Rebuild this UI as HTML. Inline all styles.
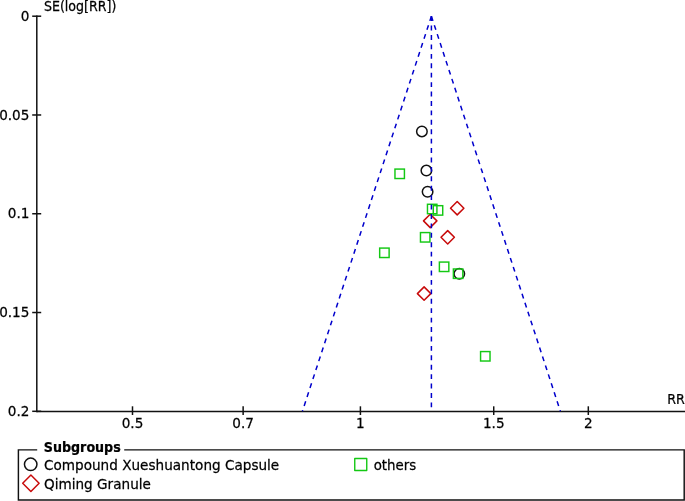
<!DOCTYPE html>
<html><head><meta charset="utf-8"><title>Funnel plot</title>
<style>
html,body{margin:0;padding:0;background:#fff;}
body{width:685px;height:501px;overflow:hidden;position:relative;}
svg{position:absolute;left:0;top:0;display:block;}
text{font-family:"DejaVu Sans","Liberation Sans",sans-serif;font-size:14.4px;fill:#000;stroke:#000;stroke-width:0.25px;}
.b{font-weight:bold;}
</style></head><body>
<svg width="685" height="501" viewBox="0 0 685 501">
<rect x="0" y="0" width="685" height="501" fill="#fff"/>
<g stroke="#111" stroke-width="1.5" fill="none">
<line x1="36.8" y1="15.5" x2="36.8" y2="412.2"/>
<line x1="36.8" y1="411.45" x2="686" y2="411.45"/>
<line x1="32.2" y1="16.20" x2="41.2" y2="16.20"/>
<line x1="32.2" y1="114.98" x2="41.2" y2="114.98"/>
<line x1="32.2" y1="213.75" x2="41.2" y2="213.75"/>
<line x1="32.2" y1="312.52" x2="41.2" y2="312.52"/>
<line x1="32.2" y1="411.30" x2="41.2" y2="411.30"/>
<line x1="132.50" y1="406.3" x2="132.50" y2="415"/>
<line x1="243.13" y1="406.3" x2="243.13" y2="415"/>
<line x1="360.41" y1="406.3" x2="360.41" y2="415"/>
<line x1="493.72" y1="406.3" x2="493.72" y2="415"/>
<line x1="588.31" y1="406.3" x2="588.31" y2="415"/>
</g>
<text transform="translate(29.40 20.75) scale(0.9444 1)" text-anchor="end">0</text>
<text transform="translate(29.40 119.53) scale(0.9444 1)" text-anchor="end">0.05</text>
<text transform="translate(29.40 218.30) scale(0.9444 1)" text-anchor="end">0.1</text>
<text transform="translate(29.40 317.07) scale(0.9444 1)" text-anchor="end">0.15</text>
<text transform="translate(29.40 415.85) scale(0.9444 1)" text-anchor="end">0.2</text>
<text transform="translate(132.50 427.90) scale(0.9444 1)" text-anchor="middle">0.5</text>
<text transform="translate(243.13 427.90) scale(0.9444 1)" text-anchor="middle">0.7</text>
<text transform="translate(360.41 427.90) scale(0.9444 1)" text-anchor="middle">1</text>
<text transform="translate(493.72 427.90) scale(0.9444 1)" text-anchor="middle">1.5</text>
<text transform="translate(588.31 427.90) scale(0.9444 1)" text-anchor="middle">2</text>
<text transform="translate(43.90 11.30) scale(0.8766 1)">SE(log[RR])</text>
<text transform="translate(667.30 404.30) scale(0.8795 1)">RR</text>
<g stroke="#111" stroke-width="1.5" fill="none">
<circle cx="421.90" cy="131.40" r="5.25"/>
<circle cx="426.40" cy="170.60" r="5.25"/>
<circle cx="427.60" cy="191.80" r="5.25"/>
<circle cx="459.30" cy="273.85" r="5.25"/>
</g>
<g stroke="#c80a0a" stroke-width="1.5" fill="none" stroke-linejoin="round">
<path d="M457.20 201.50L463.90 208.20L457.20 214.90L450.50 208.20Z"/>
<path d="M430.20 214.20L436.90 220.90L430.20 227.60L423.50 220.90Z"/>
<path d="M447.70 230.60L454.40 237.30L447.70 244.00L441.00 237.30Z"/>
<path d="M424.10 286.90L430.80 293.60L424.10 300.30L417.40 293.60Z"/>
</g>
<g stroke="#14c814" stroke-width="1.45" fill="none">
<rect x="394.97" y="169.08" width="9.45" height="9.45"/>
<rect x="427.47" y="204.28" width="9.45" height="9.45"/>
<rect x="433.27" y="205.68" width="9.45" height="9.45"/>
<rect x="420.47" y="232.58" width="9.45" height="9.45"/>
<rect x="379.67" y="248.08" width="9.45" height="9.45"/>
<rect x="439.38" y="262.07" width="9.45" height="9.45"/>
<rect x="453.38" y="268.97" width="9.45" height="9.45"/>
<rect x="480.57" y="351.57" width="9.45" height="9.45"/>
</g>
<g stroke="#0000cc" stroke-width="1.5" fill="none" stroke-dasharray="4.9 4.52">
<line x1="431.4" y1="16.2" x2="431.4" y2="411.3"/>
<line x1="431.4" y1="16.2" x2="302.4" y2="411.3"/>
<line x1="431.4" y1="16.2" x2="560.4" y2="411.3"/>
</g>
<path d="M37.2 449.85H18.4V500H684.2V449.85H124.2" stroke="#111" stroke-width="1.45" fill="none"/>
<text transform="translate(43.80 452.40) scale(0.8815 1)" class="b">Subgroups</text>
<circle cx="30.7" cy="464.35" r="6.25" stroke="#111" stroke-width="1.5" fill="none"/>
<text transform="translate(44.00 470.30) scale(0.9444 1)">Compound Xueshuantong Capsule</text>
<path d="M30.9 475.05L39.099999999999994 483.25L30.9 491.45L22.7 483.25Z" stroke="#c80a0a" stroke-width="1.5" stroke-linejoin="round" fill="none"/>
<text transform="translate(44.00 489.30) scale(0.9444 1)">Qiming Granule</text>
<rect x="354.75" y="458.45" width="12" height="12" stroke="#14c814" stroke-width="1.4" stroke-linejoin="round" fill="none"/>
<text transform="translate(373.70 470.30) scale(0.9292 1)">others</text>
</svg></body></html>
